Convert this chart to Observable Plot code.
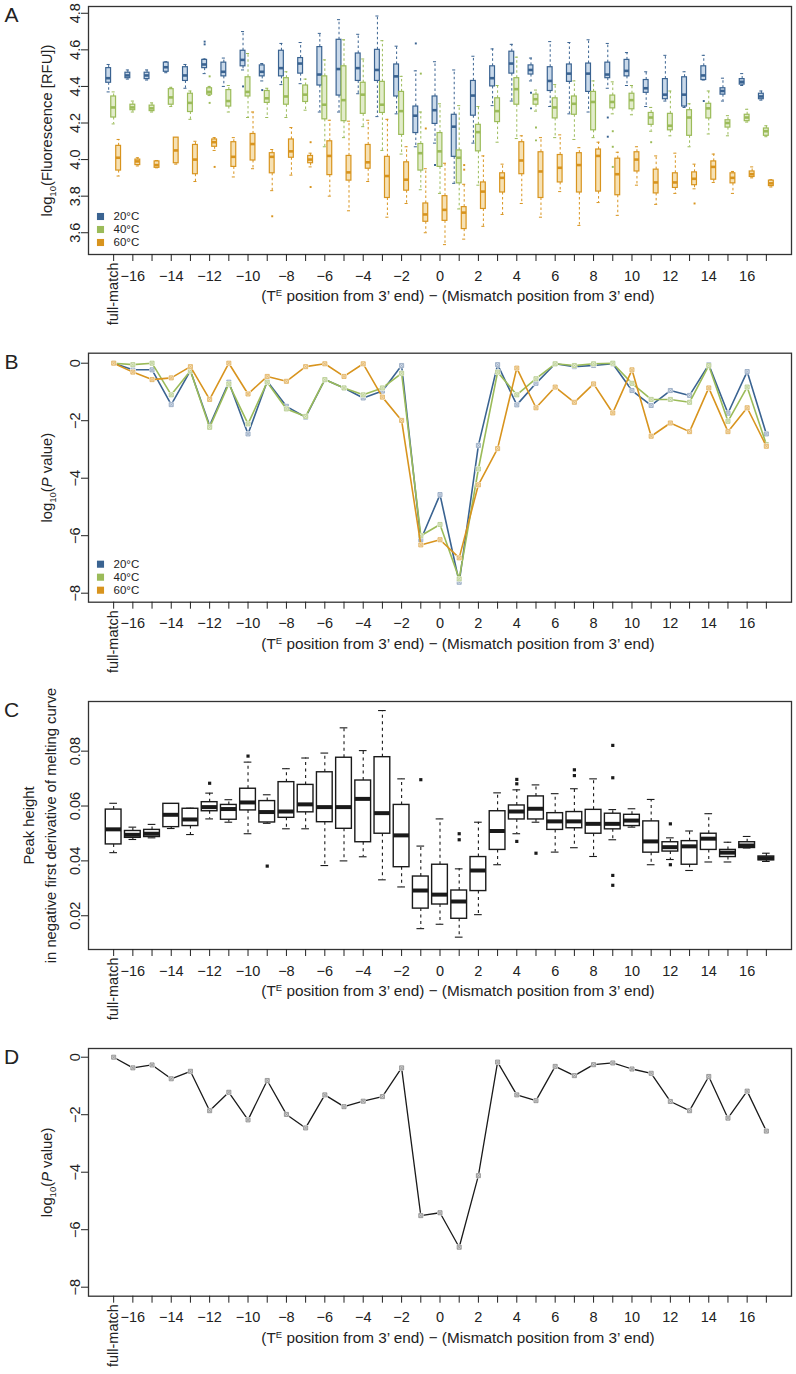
<!DOCTYPE html>
<html><head><meta charset="utf-8">
<script src="https://cdn.jsdelivr.net/npm/d3@7"></script>
<script src="https://cdn.jsdelivr.net/npm/@observablehq/plot@0.6"></script>
<style>
body{margin:0;background:#fff;}
#chart svg{display:block;}
</style></head><body><div id="chart"></div>
<script>
const positions = ["full-match","-16","-15","-14","-13","-12","-11","-10","-9","-8","-7","-6","-5","-4","-3","-2","-1","0","1","2","3","4","5","6","7","8","9","10","11","12","13","14","15","16","17"];
const temperatures = ["20°C","40°C","60°C"];
const tempColors = ["#3A6391","#9BBB59","#D8941E"];
const tempFills = ["#C9D9EA","#E2ECCB","#F6E1B4"];
const markerFills = ["#D3DCE8","#E3ECCF","#F5DFB6"];
const markerStrokes = ["#8FA3BE","#B3C98A","#E0AE5C"];

// Panel A: [lower whisker, Q1, median, Q3, upper whisker]
const fluor20 = [[4.37,4.42,4.445,4.50,4.52],[4.44,4.445,4.46,4.475,4.49],[4.435,4.44,4.46,4.475,4.49],[4.475,4.48,4.505,4.53,4.535],[4.39,4.43,4.46,4.505,4.52],[4.47,4.50,4.52,4.545,4.55],[4.40,4.455,4.48,4.53,4.555],[4.49,4.51,4.545,4.595,4.70],[4.43,4.455,4.48,4.515,4.525],[4.41,4.455,4.50,4.595,4.635],[4.415,4.47,4.525,4.555,4.64],[4.26,4.405,4.465,4.615,4.69],[4.26,4.35,4.495,4.655,4.765],[4.36,4.43,4.50,4.58,4.685],[4.235,4.43,4.49,4.60,4.785],[4.25,4.345,4.455,4.52,4.62],[4.07,4.145,4.24,4.29,4.485],[4.09,4.195,4.27,4.345,4.535],[3.87,4.015,4.18,4.245,4.49],[4.09,4.24,4.35,4.43,4.565],[4.295,4.40,4.445,4.51,4.605],[4.32,4.47,4.525,4.59,4.63],[4.43,4.465,4.49,4.515,4.555],[4.29,4.375,4.43,4.505,4.645],[4.25,4.425,4.47,4.52,4.64],[4.26,4.37,4.47,4.525,4.655],[4.39,4.445,4.465,4.53,4.635],[4.405,4.455,4.485,4.545,4.585],[4.29,4.365,4.39,4.435,4.48],[4.32,4.33,4.355,4.44,4.57],[4.285,4.29,4.355,4.45,4.48],[4.435,4.435,4.46,4.51,4.57],[4.32,4.355,4.375,4.39,4.445],[4.405,4.41,4.425,4.44,4.47],[4.325,4.33,4.345,4.36,4.375]];
const fluor40 = [[4.195,4.23,4.285,4.345,4.37],[4.26,4.27,4.285,4.30,4.32],[4.26,4.265,4.28,4.295,4.31],[4.29,4.30,4.34,4.385,4.395],[4.22,4.26,4.31,4.36,4.375],[4.35,4.355,4.37,4.39,4.40],[4.26,4.29,4.32,4.38,4.405],[4.23,4.345,4.37,4.45,4.58],[4.23,4.31,4.335,4.375,4.39],[4.23,4.30,4.345,4.445,4.48],[4.27,4.315,4.355,4.405,4.44],[4.07,4.22,4.30,4.455,4.545],[4.12,4.21,4.325,4.51,4.655],[4.18,4.25,4.355,4.42,4.55],[4.05,4.255,4.30,4.425,4.65],[4.03,4.135,4.265,4.37,4.455],[3.835,3.94,4.035,4.085,4.26],[3.815,3.96,4.045,4.145,4.305],[3.73,3.87,4.01,4.05,4.295],[3.86,4.045,4.15,4.19,4.29],[4.095,4.205,4.265,4.335,4.405],[4.115,4.30,4.385,4.445,4.56],[4.265,4.30,4.33,4.355,4.38],[4.12,4.225,4.285,4.335,4.41],[4.11,4.245,4.305,4.345,4.43],[4.12,4.16,4.315,4.37,4.43],[4.25,4.28,4.315,4.35,4.425],[4.245,4.275,4.325,4.36,4.405],[4.155,4.19,4.23,4.255,4.285],[4.13,4.16,4.185,4.25,4.375],[4.07,4.13,4.23,4.27,4.305],[4.14,4.225,4.28,4.305,4.375],[4.13,4.175,4.20,4.215,4.24],[4.205,4.21,4.23,4.245,4.275],[4.125,4.13,4.155,4.17,4.185]];
const fluor60 = [[3.91,3.94,4.01,4.075,4.11],[3.965,3.97,3.99,4.00,4.01],[3.955,3.955,3.97,3.99,3.995],[3.975,3.98,4.05,4.12,4.12],[3.88,3.92,4.0,4.08,4.10],[4.05,4.07,4.095,4.11,4.12],[3.905,3.96,4.015,4.095,4.12],[3.95,3.995,4.085,4.14,4.26],[3.83,3.925,4.015,4.035,4.055],[3.915,4.01,4.045,4.11,4.175],[3.96,3.98,4.0,4.02,4.035],[3.80,3.915,4.02,4.10,4.215],[3.72,3.885,3.93,4.02,4.21],[3.88,3.95,3.985,4.08,4.215],[3.685,3.79,3.91,4.015,4.22],[3.76,3.83,3.89,3.985,4.07],[3.60,3.66,3.70,3.76,3.95],[3.535,3.665,3.725,3.80,3.98],[3.565,3.62,3.71,3.74,3.865],[3.635,3.73,3.825,3.875,4.02],[3.70,3.82,3.90,3.925,3.975],[3.76,3.92,3.995,4.095,4.13],[3.685,3.79,3.935,4.04,4.12],[3.825,3.875,3.955,4.025,4.135],[3.64,3.82,3.97,4.035,4.065],[3.765,3.825,4.02,4.055,4.095],[3.695,3.805,3.92,4.005,4.04],[3.86,3.935,4.0,4.04,4.07],[3.755,3.815,3.875,3.945,4.02],[3.815,3.845,3.875,3.925,4.035],[3.84,3.86,3.895,3.93,3.975],[3.875,3.89,3.96,3.99,4.03],[3.815,3.87,3.90,3.925,3.935],[3.90,3.905,3.92,3.935,3.96],[3.85,3.855,3.87,3.885,3.89]];
const fluor20Outliers = [["-12",4.63],["-12",4.645],["-10",4.40],["-9",4.38],["-1",4.635],["0",3.97],["5",4.365],["5",4.28],["9",4.23],["9",4.125],["14",4.32]];
const fluor40Outliers = [["-12",4.455],["-12",4.31],["-1",4.47],["5",4.175],["5",4.105],["9",4.155],["9",4.07],["9",3.96],["11",4.095]];
const fluor60Outliers = [["-12",3.96],["-9",3.69],["-7",4.095],["-7",3.85],["-1",4.17],["1",3.97],["1",3.945],["13",3.76]];

// Panel B: log10(P value) per temperature
const pval20 = [0,-0.23,-0.23,-1.44,-0.26,-2.17,-0.66,-2.46,-0.63,-1.5,-1.88,-0.57,-0.86,-1.21,-0.97,-0.08,-6.14,-4.57,-7.62,-2.86,-0.05,-1.45,-0.70,-0.02,-0.12,-0.08,-0.02,-0.95,-1.47,-0.95,-1.12,-0.05,-1.74,-0.29,-2.46];
const pval40 = [0,-0.05,0,-1.1,-0.26,-2.23,-0.72,-2.11,-0.66,-1.59,-1.85,-0.57,-0.86,-1.1,-0.86,-0.35,-6.0,-5.61,-7.5,-3.68,-0.31,-1.1,-0.54,-0.02,-0.08,-0.02,0,-0.70,-1.26,-1.26,-1.36,-0.08,-2.02,-0.83,-2.83];
const pval60 = [0,-0.31,-0.57,-0.51,-0.12,-1.26,0,-1.07,-0.46,-0.63,-0.12,-0.02,-0.46,-0.02,-1.18,-1.99,-6.32,-6.14,-6.77,-4.23,-2.97,-0.17,-1.55,-0.83,-1.36,-0.72,-1.73,-0.23,-2.54,-2.08,-2.38,-0.86,-2.38,-1.55,-2.89];

// Panel C: peak height boxes [lower whisker, Q1, median, Q3, upper whisker]
const peak = [[0.043,0.046,0.0515,0.0587,0.061],[0.0478,0.0484,0.0495,0.0509,0.0523],[0.0484,0.0487,0.0499,0.0513,0.0533],[0.0518,0.0523,0.0568,0.0608,0.0608],[0.0496,0.0527,0.0551,0.059,0.0592],[0.0553,0.0581,0.0596,0.0614,0.0647],[0.0541,0.055,0.0589,0.0604,0.0623],[0.0499,0.0584,0.0613,0.0663,0.076],[0.0537,0.054,0.0578,0.0618,0.0641],[0.0517,0.0557,0.058,0.0687,0.0736],[0.0517,0.0577,0.0606,0.0677,0.0775],[0.0383,0.0541,0.0596,0.0723,0.0793],[0.040,0.0517,0.0596,0.0776,0.0885],[0.0415,0.0468,0.0626,0.0693,0.0802],[0.0331,0.0499,0.0574,0.0778,0.0948],[0.0305,0.0377,0.0493,0.0604,0.0699],[0.0153,0.0226,0.0292,0.0343,0.0454],[0.0169,0.0241,0.0277,0.0386,0.0553],[0.0122,0.0189,0.0252,0.0292,0.0371],[0.0204,0.029,0.0365,0.0414,0.0541],[0.0386,0.044,0.0509,0.0581,0.0648],[0.0499,0.0551,0.058,0.0602,0.0659],[0.0541,0.0551,0.059,0.0635,0.0677],[0.0432,0.0513,0.0544,0.0574,0.0645],[0.0448,0.0519,0.0544,0.0578,0.0663],[0.0416,0.0499,0.0535,0.0586,0.0699],[0.0477,0.0515,0.0535,0.0572,0.0587],[0.0523,0.0527,0.0547,0.0568,0.059],[0.0386,0.043,0.0471,0.0544,0.0624],[0.0405,0.0434,0.045,0.0468,0.0484],[0.0365,0.0386,0.0453,0.0472,0.0509],[0.0396,0.044,0.0481,0.0499,0.0572],[0.0396,0.0414,0.043,0.044,0.0468],[0.0447,0.0447,0.0456,0.0468,0.0489],[0.0398,0.0402,0.041,0.0416,0.0428]];
const peakOutliers = [["-12",0.0683],["-10",0.0782],["-9",0.0381],["-1",0.0696],["1",0.0499],["1",0.0477],["4",0.0697],["4",0.0681],["4",0.0471],["5",0.0428],["7",0.0732],["7",0.0711],["9",0.0821],["9",0.0703],["9",0.0347],["9",0.0311],["12",0.0535],["12",0.0386]];

// Panel D: log10(P value) for peak height
const pvalPeak = [0,-0.37,-0.27,-0.75,-0.49,-1.86,-1.22,-2.18,-0.81,-1.99,-2.46,-1.31,-1.72,-1.53,-1.37,-0.37,-5.51,-5.41,-6.61,-4.12,-0.17,-1.31,-1.51,-0.32,-0.64,-0.26,-0.2,-0.41,-0.56,-1.54,-1.86,-0.67,-2.12,-1.18,-2.57];

const yTicksA = [3.6,3.8,4.0,4.2,4.4,4.6,4.8];
const yTicksP = [-8,-6,-4,-2,0];
const yTicksC = [0.02,0.04,0.06,0.08];

const XLAB = "(TE position from 3’ end) − (Mismatch position from 3’ end)";
const YLAB_A = "log10(Fluorescence [RFU])";
const YLAB_P = "log10(P value)";
const YLAB_C = "Peak height\nin negative first derivative of melting curve";

const TICK_FONT = 14.5, LABEL_FONT = 14.8, XLAB_FONT = 15.3;
const posNum = p => p === "full-match" ? -17 : +p;
const minus = d => d < 0 ? "\u2212" + Math.abs(d) : String(d);

function boxRows(arr, offset) {
  return positions.map((p, i) => ({x: posNum(p) + offset, lo: arr[i][0], q1: arr[i][1], med: arr[i][2], q3: arr[i][3], hi: arr[i][4]}));
}
function outRows(arr, offset) { return arr.map(([p, v]) => ({x: posNum(p) + offset, v})); }

function boxMarks(rows, outs, o) {
  const x1 = d => d.x - o.half, x2 = d => d.x + o.half;
  const c1 = d => d.x - o.cap, c2 = d => d.x + o.cap;
  return [
    Plot.ruleX(rows, {x: "x", y1: "q3", y2: "hi", stroke: o.stroke, strokeWidth: o.wsw, strokeDasharray: o.dash}),
    Plot.ruleX(rows, {x: "x", y1: "q1", y2: "lo", stroke: o.stroke, strokeWidth: o.wsw, strokeDasharray: o.dash}),
    Plot.ruleY(rows, {y: "hi", x1: c1, x2: c2, stroke: o.stroke, strokeWidth: o.wsw}),
    Plot.ruleY(rows, {y: "lo", x1: c1, x2: c2, stroke: o.stroke, strokeWidth: o.wsw}),
    Plot.rect(rows, {x1, x2, y1: "q1", y2: "q3", fill: o.fill, stroke: o.stroke, strokeWidth: o.bsw}),
    Plot.ruleY(rows, {y: "med", x1, x2, stroke: o.stroke, strokeWidth: o.msw}),
    Plot.dot(outs, {x: "x", y: "v", symbol: "square", r: o.outR, fill: o.stroke, stroke: "none"})
  ];
}

function xAxes() {
  return [
    Plot.axisX({ticks: positions.map(posNum), tickSize: 7, tickPadding: 9, fontSize: TICK_FONT, tickFormat: d => (d !== -17 && d % 2 === 0) ? minus(d) : "", label: null}),
    Plot.axisX({ticks: [-17], tickSize: 0, tickPadding: 8, fontSize: TICK_FONT, tickRotate: -90, tickFormat: () => "full-match", label: null})
  ];
}

function legendMarks() {
  return temperatures.flatMap((t, i) => [
    Plot.dot([t], {frameAnchor: "bottom-left", dx: 12, dy: -38 + 13 * i, symbol: "square", r: 4, fill: tempColors[i]}),
    Plot.text([t], {frameAnchor: "bottom-left", dx: 25, dy: -38 + 13 * i, text: d => d, textAnchor: "start", lineAnchor: "middle", fontSize: 11.5})
  ]);
}

function panel(cfg) {
  return Plot.plot({
    width: 796, height: cfg.height,
    marginLeft: 88, marginRight: 5, marginTop: cfg.marginTop, marginBottom: cfg.marginBottom,
    x: {type: "linear", domain: [-18.31, 18.31]},
    y: {type: "linear", domain: cfg.yDomain},
    style: {fontFamily: "'Liberation Sans', Arial, Helvetica, sans-serif", fontSize: TICK_FONT + "px", color: "#222", background: "white", overflow: "visible"},
    marks: [
      ...cfg.marks,
      Plot.frame({stroke: "#333", strokeWidth: 1.3}),
      Plot.axisY({ticks: cfg.yTicks, tickFormat: cfg.yFormat, tickRotate: -90, tickSize: 7, tickPadding: 2, fontSize: TICK_FONT, label: null}),
      ...xAxes(),
      Plot.text([cfg.ylab], {frameAnchor: "left", dx: cfg.ylabDx, rotate: -90, text: d => d, fontSize: LABEL_FONT, lineAnchor: "middle", textAnchor: "middle", lineHeight: 1.45}),
      Plot.text([XLAB], {frameAnchor: "bottom", dx: 18, dy: 42, text: d => d, fontSize: XLAB_FONT, lineAnchor: "middle"}),
      Plot.text([cfg.letter], {frameAnchor: "top-left", dx: -77, dy: 9, text: d => d, fontSize: 21, lineAnchor: "middle", textAnchor: "middle"})
    ]
  });
}

function richText(svg, plain, parts) {
  d3.select(svg).selectAll("text").filter(function() { return this.textContent === plain; }).each(function() {
    const t = d3.select(this);
    t.text(null);
    for (const p of parts) {
      const s = t.append("tspan").text(p.t);
      if (p.size) s.attr("font-size", p.size);
      if (p.dy) s.attr("dy", p.dy);
      if (p.it) s.attr("font-style", "italic");
    }
  });
}

const offsets = [-0.26, 0, 0.26];
const fluorSets = [fluor20, fluor40, fluor60];
const fluorOuts = [fluor20Outliers, fluor40Outliers, fluor60Outliers];
const marksA = fluorSets.flatMap((arr, t) => boxMarks(boxRows(arr, offsets[t]), outRows(fluorOuts[t], offsets[t]),
  {half: 0.125, cap: 0.08, stroke: tempColors[t], fill: tempFills[t], wsw: 1, bsw: 1.2, msw: 2.6, dash: "2.5,2.5", outR: 1.1}));

const pvalSets = [pval20, pval40, pval60];
const marksB = pvalSets.flatMap((arr, t) => {
  const rows = positions.map((p, i) => ({x: posNum(p), y: arr[i]}));
  return [
    Plot.line(rows, {x: "x", y: "y", stroke: tempColors[t], strokeWidth: 1.6}),
    Plot.dot(rows, {x: "x", y: "y", symbol: "square", r: 3.2, fill: "white", stroke: "none"}),
    Plot.dot(rows, {x: "x", y: "y", symbol: "square", r: 2.3, fill: markerFills[t], stroke: markerStrokes[t], strokeWidth: 0.8}),
    Plot.dot(rows, {x: "x", y: "y", symbol: "times", r: 1.5, stroke: markerStrokes[t], strokeWidth: 0.6})
  ];
});

const marksC = boxMarks(boxRows(peak, 0), outRows(peakOutliers, 0),
  {half: 0.41, cap: 0.2, stroke: "#1a1a1a", fill: "white", wsw: 1.1, bsw: 1.4, msw: 4, dash: "3,3.5", outR: 1.8});

const rowsD = positions.map((p, i) => ({x: posNum(p), y: pvalPeak[i]}));
const marksD = [
  Plot.line(rowsD, {x: "x", y: "y", stroke: "#1a1a1a", strokeWidth: 1.3}),
  Plot.dot(rowsD, {x: "x", y: "y", symbol: "square", r: 3.2, fill: "white", stroke: "none"}),
  Plot.dot(rowsD, {x: "x", y: "y", symbol: "square", r: 2.3, fill: "#d0d0d0", stroke: "#8a8a8a", strokeWidth: 0.8}),
  Plot.dot(rowsD, {x: "x", y: "y", symbol: "times", r: 1.5, stroke: "#8a8a8a", strokeWidth: 0.6})
];

const fmt1 = d3.format(".1f"), fmt2 = d3.format(".2f");
const panels = [
  panel({height: 330, marginTop: 6, marginBottom: 76, yDomain: [3.481, 4.837], yTicks: yTicksA, yFormat: fmt1, marks: [...marksA, ...legendMarks()], letter: "A", ylab: YLAB_A, ylabDx: -43}),
  panel({height: 350, marginTop: 22.7, marginBottom: 78.3, yDomain: [-8.313, 0.348], yTicks: yTicksP, yFormat: minus, marks: [...marksB, ...legendMarks()], letter: "B", ylab: YLAB_P, ylabDx: -43}),
  panel({height: 340, marginTop: 21, marginBottom: 71, yDomain: [0.0077, 0.0981], yTicks: yTicksC, yFormat: fmt2, marks: marksC, letter: "C", ylab: YLAB_C, ylabDx: -50.5}),
  panel({height: 354, marginTop: 28, marginBottom: 78.3, yDomain: [-8.313, 0.303], yTicks: yTicksP, yFormat: minus, marks: marksD, letter: "D", ylab: YLAB_P, ylabDx: -43})
];

const chart = document.getElementById("chart");
for (const svg of panels) {
  richText(svg, YLAB_A, [{t: "log"}, {t: "10", size: "9.5px", dy: 3.5}, {t: "(Fluorescence [RFU])", dy: -3.5}]);
  richText(svg, YLAB_P, [{t: "log"}, {t: "10", size: "9.5px", dy: 3.5}, {t: "(", dy: -3.5}, {t: "P", it: true}, {t: " value)"}]);
  richText(svg, XLAB, [{t: "(T"}, {t: "E", size: "9.5px", dy: -5.5}, {t: " position from 3’ end) − (Mismatch position from 3’ end)", dy: 5.5}]);
  chart.appendChild(svg);
}
</script>
</body></html>
